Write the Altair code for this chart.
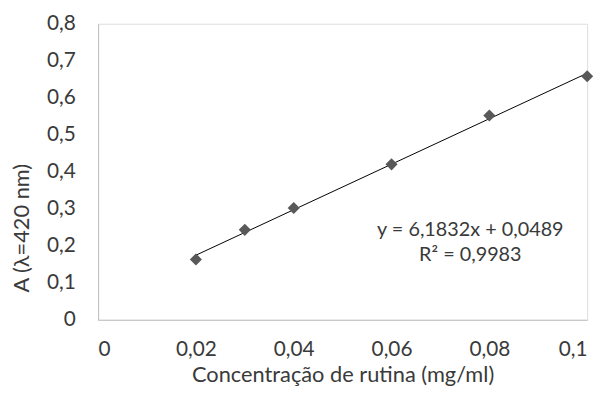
import altair as alt
import pandas as pd

# data
conc = [0.02, 0.03, 0.04, 0.06, 0.08, 0.10]
absorb = [0.163, 0.243, 0.302, 0.420, 0.552, 0.658]
x_ticks = [0, 0.02, 0.04, 0.06, 0.08, 0.1]
y_ticks = [0, 0.1, 0.2, 0.3, 0.4, 0.5, 0.6, 0.7, 0.8]
eq_lines = ["y = 6,1832x + 0,0489", "R² = 0,9983"]

df = pd.DataFrame({"x": conc, "y": absorb})
FONT = "Lato"
LFS = 21
TFS = 22
TXT = "#3a3a3a"
label_expr = "replace(format(datum.value, '~g'), '.', ',')"

x_enc = alt.X("x:Q", scale=alt.Scale(domain=[0, 0.1], nice=False),
              axis=alt.Axis(values=x_ticks, labelExpr=label_expr, grid=False, ticks=False,
                            domainColor="#bfbfbf", labelPadding=19, labelFontSize=LFS,
                            labelFont=FONT, labelColor=TXT, title="Concentração de rutina (mg/ml)",
                            titleFont=FONT, titleFontSize=TFS, titleFontWeight="normal",
                            titleColor=TXT, titleY=55, titleBaseline="middle"))
y_enc = alt.Y("y:Q", scale=alt.Scale(domain=[0, 0.8], nice=False),
              axis=alt.Axis(values=y_ticks, labelExpr=label_expr, grid=False, ticks=False,
                            domainColor="#bfbfbf", labelPadding=23, labelFontSize=LFS,
                            labelFont=FONT, labelColor=TXT, title="A (λ=420 nm)",
                            titleFont=FONT, titleFontSize=TFS, titleFontWeight="normal",
                            titleColor=TXT, titleX=-77, titleY=206, titleAngle=270,
                            titleBaseline="middle", titleAlign="center"))

base = alt.Chart(df)
points = base.mark_point(shape="diamond", filled=True, size=150, color="#595959", opacity=1).encode(
    x=x_enc, y=y_enc)
trend = base.transform_regression("x", "y").mark_line(color="#000000", strokeWidth=1).encode(
    x=x_enc, y=y_enc)

def eq_text(t, py):
    return alt.Chart(pd.DataFrame({"t": [t]})).mark_text(
        font=FONT, fontSize=20, color=TXT, align="center", baseline="middle"
    ).encode(x=alt.value(376), y=alt.value(py), text="t:N")

eq1 = eq_text(eq_lines[0], 208)
eq2 = eq_text(eq_lines[1], 234)

chart = alt.layer(trend, points, eq1, eq2).properties(
    width=494, height=299,
    autosize=alt.AutoSizeParams(type="none"),
    padding={"left": 91, "top": 14, "right": 15, "bottom": 68},
).configure_view(stroke=None).configure(background="white")

chart.save("out.html", embed_options={"renderer": "svg", "actions": False})
